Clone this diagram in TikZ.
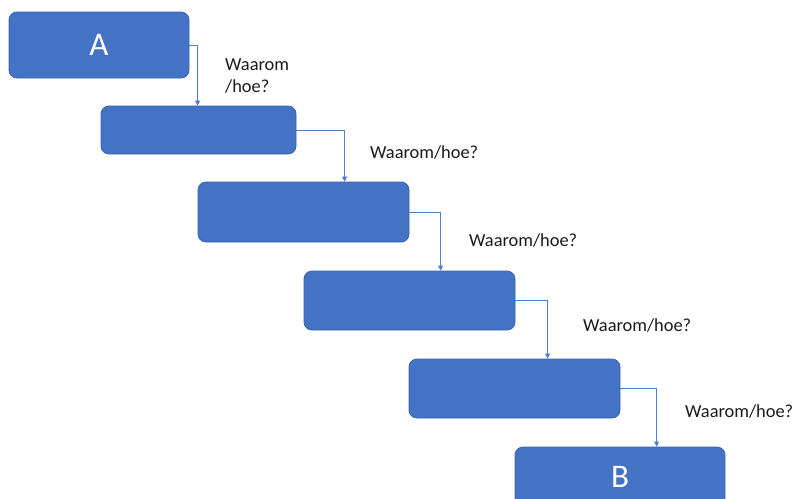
\documentclass[tikz,border=0pt]{standalone}
\usepackage{fontspec}
\setmainfont{Carlito}
\usetikzlibrary{arrows.meta,positioning}
\definecolor{boxfill}{HTML}{4472C4}
\definecolor{boxline}{HTML}{3A63AE}
\definecolor{arrowc}{HTML}{4F7ED0}
\definecolor{txt}{HTML}{1A1A1A}
\tikzset{
  stepbox/.style={rectangle, rounded corners=8pt, fill=boxfill, draw=boxline, line width=0.8pt,
    font=\fontsize{33}{36}\selectfont, text=white, inner sep=0pt},
  conn/.style={draw=arrowc, line width=0.9pt, -{Triangle[width=5pt,length=5pt]}},
  lbl/.style={font=\fontsize{18.4}{22}\selectfont, text=txt, inner sep=0pt, align=left}
}
\begin{document}
\begin{tikzpicture}[x=1pt,y=-1pt]
\useasboundingbox (0,0) rectangle (792,498);
\begin{scope}
\clip (0,0) rectangle (792,498);
\node[stepbox, minimum width=180pt, minimum height=66pt] (A) at (99,45) {A};
\node[stepbox, minimum width=195pt, minimum height=48pt] (b2) at (198.5,130) {};
\node[stepbox, minimum width=211pt, minimum height=60pt] (b3) at (303.5,212) {};
\node[stepbox, minimum width=211pt, minimum height=59pt] (b4) at (409.5,300.5) {};
\node[stepbox, minimum width=211pt, minimum height=59pt] (b5) at (514.5,388.5) {};
\node[stepbox, minimum width=210pt, minimum height=60pt] (B) at (620,477) {B};

\draw[conn] (A.east) -| ([xshift=97pt]b2.north west);
\draw[conn] (b2.east) -| ([xshift=147pt]b3.north west);
\draw[conn] (b3.east) -| ([xshift=137pt]b4.north west);
\draw[conn] (b4.east) -| ([xshift=139pt]b5.north west);
\draw[conn] (b5.east) -| ([xshift=142pt]B.north west);

\node[lbl, anchor=west] (l1) at (225,76) {Waarom\\/hoe?};
\node[lbl, anchor=west] (l2) at (370,152) {Waarom/hoe?};
\node[lbl, anchor=west] (l3) at (469,240) {Waarom/hoe?};
\node[lbl, anchor=west] (l4) at (583,325) {Waarom/hoe?};
\node[lbl, anchor=west] (l5) at (685,411) {Waarom/hoe?};
\end{scope}
\end{tikzpicture}
\end{document}
